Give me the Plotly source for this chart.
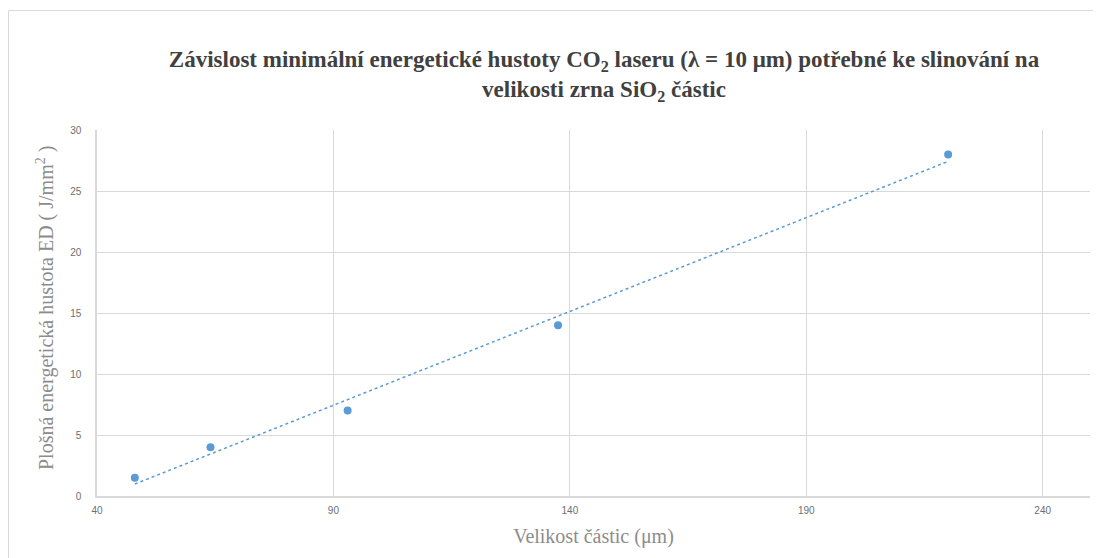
import numpy as np
import plotly.graph_objects as go

# Data
particle_size = [48, 64, 93, 137.5, 220]          # µm
energy_density = [1.5, 4, 7, 14, 28]              # J/mm2
x_ticks = [40, 90, 140, 190, 240]
y_ticks = [0, 5, 10, 15, 20, 25, 30]

title_text = ("<b>Závislost minimální energetické hustoty CO<sub>2</sub> laseru (λ = 10 μm) "
              "potřebné ke slinování na<br>velikosti zrna SiO<sub>2</sub> částic</b>")
x_title = "Velikost částic (μm)"
y_title = "Plošná energetická hustota ED ( J/mm<sup>2</sup> )"

# Linear trendline (least squares) over the data range
coef = np.polyfit(particle_size, energy_density, 1)
trend_x = [min(particle_size), max(particle_size)]
trend_y = list(np.polyval(coef, trend_x))

blue = "#5b9bd5"
grid = "#d9d9d9"

fig = go.Figure()
fig.add_trace(go.Scatter(x=trend_x, y=trend_y, mode="lines",
                         line=dict(color=blue, width=1.5, dash="dot"),
                         showlegend=False, hoverinfo="skip"))
fig.add_trace(go.Scatter(x=particle_size, y=energy_density, mode="markers",
                         marker=dict(color=blue, size=8),
                         showlegend=False))

# page has an 8px body margin, so the figure is offset by 8px
W, H = 1093, 550
L, R, T, B = 89, 11, 122, 62
pw, ph = W - L - R, H - T - B

def px_x(p):
    return (p - L) / pw

def px_y(p):
    return (H - B - p) / ph

fig.add_shape(type="rect", xref="paper", yref="paper",
              x0=px_x(0.5), x1=px_x(1120), y0=px_y(575), y1=px_y(2.5),
              line=dict(color="#d9d9d9", width=1), layer="below")

# y-axis title as a rotated annotation for exact placement
fig.add_annotation(text=y_title, xref="paper", yref="paper",
                   x=px_x(37), y=px_y(300), xanchor="center", yanchor="middle",
                   textangle=-90, showarrow=False,
                   font=dict(family="Liberation Serif", size=20, color="#8c8c8c"))

fig.update_layout(
    width=W, height=H,
    margin=dict(l=L, r=R, t=T, b=B),
    paper_bgcolor="white", plot_bgcolor="white",
    title=dict(text=title_text, x=596 / W, xanchor="center", xref="container",
               y=1 - 59 / H, yanchor="middle", yref="container",
               font=dict(family="Liberation Serif", size=23, color="#404040")),
    xaxis=dict(range=[40, 250], tickvals=x_ticks, ticktext=[str(v) for v in x_ticks],
               showgrid=True, gridcolor=grid, gridwidth=1,
               showline=True, linecolor=grid, linewidth=1.5, zeroline=False,
               ticks="", tickfont=dict(family="Liberation Sans", size=10, color="#6e6e6e"),
               ticklabelstandoff=4,
               title=dict(text=x_title, standoff=14,
                          font=dict(family="Liberation Serif", size=20, color="#8c8c8c"))),
    yaxis=dict(range=[0, 30], tickvals=y_ticks,
               showgrid=True, gridcolor=grid, gridwidth=1,
               showline=True, linecolor=grid, linewidth=1.5, zeroline=False,
               ticks="", tickfont=dict(family="Liberation Sans", size=10, color="#6e6e6e"),
               ticklabelstandoff=12),
)

fig.write_html("out.html")
